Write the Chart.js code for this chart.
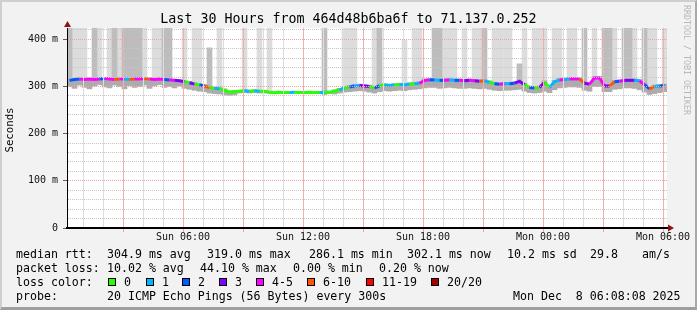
<!DOCTYPE html>
<html>
<head>
<meta charset="utf-8">
<script src="https://cdn.jsdelivr.net/npm/chart.js@4"></script>
<style>
  html, body { margin: 0; padding: 0; background: #f2f2f2; }
  #frame { position: absolute; left: 0; top: 0; width: 697px; height: 310px; box-sizing: border-box;
           border-style: solid; border-width: 2px 2px 3px 2px;
           border-color: #cfcfcf #a8a8a8 #9e9e9e #cfcfcf; background: #f2f2f2; }
  canvas { position: absolute; left: 0; top: 0; }
  .t { position: absolute; font-family: 'DejaVu Sans Mono', monospace; font-size: 11.6px;
       line-height: 14px; color: #000; white-space: pre; }
  #title { left: 0; width: 697px; top: 11px; text-align: center; font-size: 13.3px; line-height: 16px; }
  #ylabel { left: -40px; top: 123px; width: 100px; text-align: center; font-size: 10.7px; transform: rotate(-90deg); }
  #side { left: 682px; top: 5px; font-size: 8.3px; line-height: 10px; color: #b8b8b8; writing-mode: vertical-rl; }
  .box { position: absolute; width: 6px; height: 6px; border: 1px solid #000; top: 278px; }
</style>
</head>
<body>
<div id="frame"></div>
<canvas id="chart" width="697" height="310"></canvas>
<div class="t" id="title">Last 30 Hours from 464d48b6ba6f to 71.137.0.252</div>
<div class="t" id="ylabel">Seconds</div>
<div class="t" id="side">RRDTOOL / TOBI OETIKER</div>

<div class="t" style="left:16px;top:247px">median rtt:</div>
<div class="t" style="left:107px;top:247px">304.9 ms avg</div>
<div class="t" style="left:207px;top:247px">319.0 ms max</div>
<div class="t" style="left:309px;top:247px">286.1 ms min</div>
<div class="t" style="left:407px;top:247px">302.1 ms now</div>
<div class="t" style="left:507px;top:247px">10.2 ms sd</div>
<div class="t" style="left:590px;top:247px">29.8</div>
<div class="t" style="left:642px;top:247px">am/s</div>

<div class="t" style="left:16px;top:261px">packet loss:</div>
<div class="t" style="left:107px;top:261px">10.02 % avg</div>
<div class="t" style="left:200px;top:261px">44.10 % max</div>
<div class="t" style="left:293px;top:261px">0.00 % min</div>
<div class="t" style="left:379px;top:261px">0.20 % now</div>

<div class="t" style="left:16px;top:275px">loss color:</div>
<div id="swatches"></div>

<div class="t" style="left:16px;top:289px">probe:</div>
<div class="t" style="left:107px;top:289px">20 ICMP Echo Pings (56 Bytes) every 300s</div>
<div class="t" style="left:513px;top:289px">Mon Dec  8 06:08:08 2025</div>

<script>
// time axis: minutes since Sun 00:00, one sample every 15 minutes
var startMinute = 12;
var endMinute = 1812;
var stepMinutes = 15;

var xTickMinutes = [360, 720, 1080, 1440, 1800];
var xTickLabels = ['Sun 06:00', 'Sun 12:00', 'Sun 18:00', 'Mon 00:00', 'Mon 06:00'];
var yTickValues = [0, 100, 200, 300, 400];
var yTickLabels = ['0', '100 m', '200 m', '300 m', '400 m'];
var yMax = 424;

var lossLabels = ['0', '1', '2', '3', '4-5', '6-10', '11-19', '20/20'];
var lossColors = ['#26ff00', '#00b8ff', '#0059ff', '#7e00ff', '#ff00ff', '#ff5500', '#ff0000', '#a10000'];

// median rtt (ms)
var median = [
  313, 315, 316, 315, 316, 315, 316, 317, 316, 315, 316, 316, 315, 316, 316, 317, 316, 315, 316, 315,
  314, 313, 312, 310, 308, 305, 303, 301, 298, 296, 295, 292, 288, 289, 290, 291, 290, 291, 290, 290,
  288, 287, 288, 287, 287, 288, 287, 287, 288, 287, 287, 288, 288, 290, 293, 297, 299, 301, 302, 301,
  300, 297, 301, 303, 302, 303, 304, 303, 305, 306, 307, 313, 314, 314, 313, 313, 314, 313, 313, 312,
  313, 312, 311, 312, 309, 306, 305, 306, 306, 307, 311, 304, 298, 297, 298, 309, 298, 310, 314, 315,
  316, 316, 316, 307, 305, 318, 318, 301, 301, 310, 311, 313, 313, 313, 312, 304, 295, 300, 301, 302
];
// loss class per sample (index into lossColors)
var loss = [
  3, 2, 2, 4, 4, 4, 4, 2, 4, 4, 5, 4, 1, 5, 4, 4, 5, 4, 4, 4,
  2, 4, 3, 3, 0, 3, 0, 2, 5, 0, 1, 0, 0, 0, 0, 0, 1, 0, 1, 0,
  0, 0, 0, 0, 0, 1, 0, 0, 0, 0, 0, 1, 0, 0, 0, 1, 0, 2, 1, 3,
  3, 0, 2, 0, 1, 1, 0, 1, 1, 0, 1, 4, 4, 2, 1, 2, 4, 1, 2, 4,
  3, 4, 3, 5, 1, 0, 2, 4, 1, 2, 3, 3, 0, 2, 0, 3, 0, 1, 1, 4,
  1, 4, 4, 5, 3, 4, 4, 4, 3, 5, 2, 4, 3, 3, 1, 4, 2, 5, 1, 2
];
// smoke around the median (ms)
var smokeLo = [
  300, 296, 303, 298, 295, 301, 304, 299, 297, 303, 300, 295, 302, 298, 300, 303, 296, 301, 304, 298,
  300, 297, 301, 296, 294, 292, 290, 289, 286, 285, 284, 282, 281, 282, 286, 287, 286, 287, 286, 286,
  286, 285, 286, 285, 285, 286, 285, 285, 286, 285, 285, 283, 285, 284, 286, 288, 289, 290, 291, 290,
  288, 286, 289, 291, 290, 291, 292, 291, 293, 294, 295, 297, 298, 298, 296, 297, 298, 297, 296, 296,
  297, 296, 295, 296, 294, 292, 291, 292, 292, 293, 294, 290, 287, 286, 287, 290, 287, 293, 297, 298,
  299, 299, 298, 292, 290, 300, 300, 289, 289, 294, 295, 297, 297, 296, 293, 288, 283, 285, 287, 289
];
var smokeHi = [
  315, 317, 318, 317, 318, 317, 318, 319, 318, 317, 318, 318, 317, 318, 318, 319, 318, 317, 318, 317,
  316, 315, 314, 312, 311, 308, 306, 304, 301, 299, 298, 295, 291, 292, 292, 293, 292, 293, 292, 292,
  290, 289, 290, 289, 289, 290, 289, 289, 290, 289, 289, 291, 290, 293, 296, 300, 302, 304, 305, 304,
  303, 300, 304, 306, 305, 306, 307, 306, 308, 309, 310, 316, 317, 317, 316, 316, 317, 316, 316, 315,
  316, 315, 314, 315, 312, 309, 308, 309, 309, 310, 314, 307, 301, 300, 301, 312, 301, 313, 317, 318,
  319, 319, 319, 310, 308, 321, 321, 304, 304, 313, 314, 316, 316, 316, 315, 307, 298, 303, 304, 305
];
// top of the outlier smoke (ms), light and darker shades
var _ = null;
var spikeLight = [
  _, 424, 424, 424, _, _, 424, _, 424, _, 424, _, _, _, _, 424, _, 424, 424, _,
  _, _, _, 424, _, 424, 424, _, _, _, 424, _, _, _, _, 424, _, _, 424, _,
  424, _, _, _, _, _, _, _, _, _, _, _, _, _, _, 424, 424, 424, _, _,
  _, 424, _, _, _, _, _, 398, _, 424, 424, _, _, _, _, 424, 424, 424, _, 424,
  _, 424, 424, _, _, 424, 424, 424, 424, _, _, 424, _, 424, 424, 424, _, 424, 424, _,
  424, 424, _, _, _, 424, _, _, _, 424, _, _, _, 424, _, _, 424, 424, _, 424
];
var spikeDark = [
  424, _, _, _, _, 424, _, _, _, 424, _, 424, 424, 424, 424, _, _, _, _, 424,
  424, _, _, _, _, _, _, _, 382, _, _, _, _, _, _, _, _, _, _, _,
  _, _, _, _, _, _, _, _, _, _, _, 424, _, _, _, _, _, _, _, _,
  _, _, 424, _, _, _, _, _, _, _, _, _, _, 424, 424, _, _, _, _, _,
  _, _, _, 424, _, _, _, _, _, _, 348, _, _, _, _, _, _, _, _, _,
  _, _, _, 424, _, _, _, 424, 424, _, _, 424, 424, _, _, 424, _, _, _, _
];

var timeAt = function (i) { return startMinute + stepMinutes * i + stepMinutes / 2; };

var hourTicks = [];
for (var h = 60; h <= endMinute; h += 60) hourTicks.push(h);
var yGridValues = [];
for (var v = 0; v <= 420; v += 20) yGridValues.push(v);

var monoFont = { family: "'DejaVu Sans Mono', monospace", size: 10 };
var majorGrid = '#eba3a3';
var minorGrid = '#c6c6c6';
// vertical lines are drawn solid, so use the tones the dotted lines average to
var majorGridSolid = '#f0b0b0';
var minorGridSolid = '#dedede';

var floatBars = function (base, tops) {
    return tops.map(function (top, i) {
        return { x: timeAt(i), y: top === null ? null : [base[i], top] };
    });
};

var rrdFrame = {
    id: 'rrdFrame',
    beforeDraw: function (chart) {
        var a = chart.chartArea, c = chart.ctx;
        c.save();
        c.fillStyle = '#ffffff';
        c.fillRect(a.left, a.top, a.right - a.left, a.bottom - a.top);
        c.restore();
    },
    afterDraw: function (chart) {
        var a = chart.chartArea, c = chart.ctx, sx = chart.scales.x;
        c.save();
        // hourly grid on the time axis
        hourTicks.forEach(function (m) {
            var px = Math.round(sx.getPixelForValue(m));
            var major = m % 180 === 0;
            c.fillStyle = major ? majorGridSolid : minorGridSolid;
            c.fillRect(px, Math.round(a.top), 1, Math.round(a.bottom - a.top) - 1);
            if (major) {
                c.fillStyle = majorGrid;
                c.fillRect(px, Math.round(a.bottom) + 1, 1, 3);
            }
        });
        // axis arrows
        c.fillStyle = '#8b1414';
        c.beginPath();
        c.moveTo(a.left - 3, a.top - 1); c.lineTo(a.left + 4, a.top - 1); c.lineTo(a.left + 0.5, a.top - 7);
        c.fill();
        c.beginPath();
        c.moveTo(a.right + 1, a.bottom - 3.5); c.lineTo(a.right + 1, a.bottom + 3.5); c.lineTo(a.right + 7, a.bottom);
        c.fill();
        c.restore();
    }
};

var chart = new Chart(document.getElementById('chart').getContext('2d'), {
    type: 'bar',
    data: {
        datasets: [{
            type: 'line',
            data: median.map(function (m, i) { return { x: timeAt(i), y: m }; }),
            borderWidth: 3,
            pointRadius: 0,
            borderCapStyle: 'butt',
            segment: { borderColor: function (ctx) { return lossColors[loss[ctx.p1DataIndex]]; } },
            order: 0
        }, {
            data: floatBars(smokeLo, smokeHi),
            backgroundColor: '#acacac',
            grouped: false, barPercentage: 1, categoryPercentage: 1,
            order: 1
        }, {
            data: floatBars(smokeHi, spikeDark),
            backgroundColor: '#bdbdbd',
            grouped: false, barPercentage: 1, categoryPercentage: 1,
            order: 2
        }, {
            data: floatBars(smokeHi, spikeLight),
            backgroundColor: '#dcdcdc',
            grouped: false, barPercentage: 1, categoryPercentage: 1,
            order: 3
        }]
    },
    options: {
        responsive: false,
        animation: false,
        devicePixelRatio: 1,
        layout: { padding: { top: 28, right: 30, bottom: 62, left: 0 } },
        plugins: { legend: { display: false }, tooltip: { enabled: false } },
        scales: {
            x: {
                type: 'linear', min: startMinute, max: endMinute, offset: false,
                afterBuildTicks: function (s) { s.ticks = hourTicks.map(function (m) { return { value: m }; }); },
                afterFit: function (s) { s.height = 20; s.paddingLeft = 0; s.paddingRight = 0; },
                ticks: {
                    autoSkip: false, maxRotation: 0, padding: 3, color: '#111', font: monoFont,
                    callback: function (val) {
                        var k = xTickMinutes.indexOf(val);
                        return k < 0 ? '' : xTickLabels[k];
                    }
                },
                grid: { display: false, drawTicks: false },
                border: { z: 2, color: '#000', width: 2 }
            },
            y: {
                min: 0, max: yMax,
                afterBuildTicks: function (s) { s.ticks = yGridValues.map(function (m) { return { value: m }; }); },
                afterFit: function (s) { s.width = 67; s.paddingTop = 0; s.paddingBottom = 0; },
                ticks: {
                    autoSkip: false, padding: 5, color: '#111', font: monoFont,
                    callback: function (val) {
                        var k = yTickValues.indexOf(val);
                        return k < 0 ? '' : yTickLabels[k];
                    }
                },
                grid: {
                    z: 1, tickLength: 4,
                    color: function (ctx) {
                        if (!ctx.tick || ctx.tick.value === 0) return 'transparent';
                        return ctx.tick.value % 100 === 0 ? majorGrid : minorGrid;
                    },
                    tickColor: function (ctx) { return ctx.tick && ctx.tick.value % 100 === 0 ? '#606060' : 'transparent'; }
                },
                border: { z: 2, color: '#000', width: 1, dash: [1, 1] }
            }
        }
    },
    plugins: [rrdFrame]
});

// loss colour legend swatches
var swatchLeft = [108, 146, 182, 219, 256, 307, 366, 431];
var holder = document.getElementById('swatches');
lossLabels.forEach(function (label, i) {
    var box = document.createElement('div');
    box.className = 'box';
    box.style.left = swatchLeft[i] + 'px';
    box.style.background = lossColors[i];
    holder.appendChild(box);
    var txt = document.createElement('div');
    txt.className = 't';
    txt.style.left = (swatchLeft[i] + 16) + 'px';
    txt.style.top = '275px';
    txt.textContent = label;
    holder.appendChild(txt);
});
</script>
</body>
</html>
